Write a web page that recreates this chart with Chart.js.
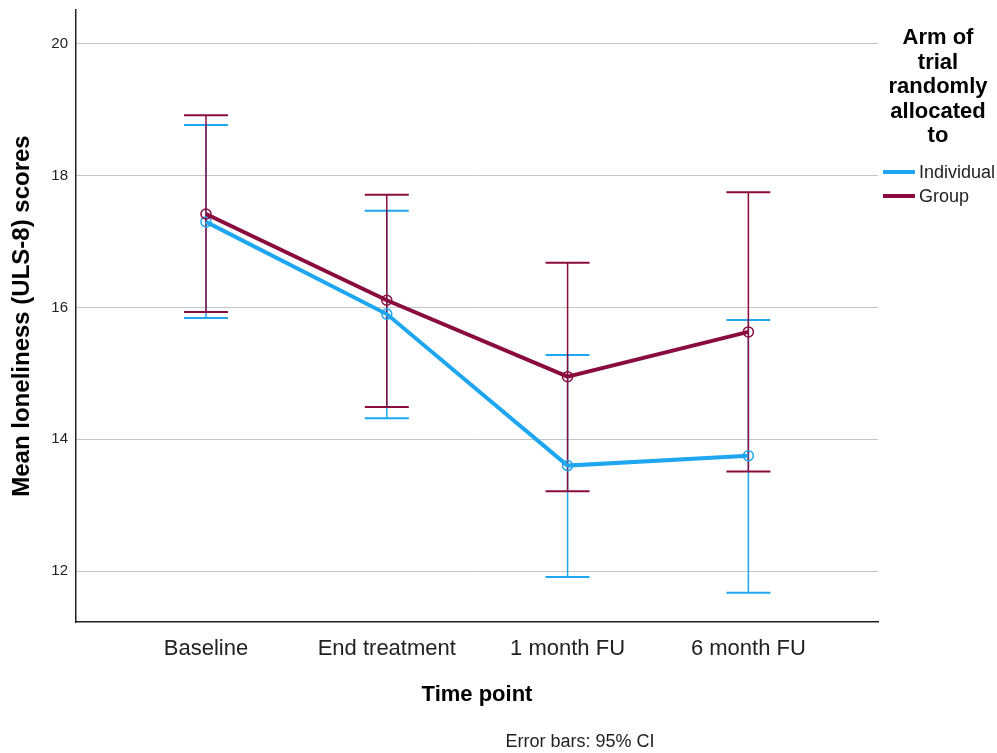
<!DOCTYPE html>
<html>
<head>
<meta charset="utf-8">
<script src="https://cdn.jsdelivr.net/npm/chart.js@4"></script>
<style>
  html, body { margin: 0; padding: 0; background: #fff; }
  #wrap { width: 997px; height: 753px; }
</style>
</head>
<body>
<div id="wrap"><canvas id="chart" width="997" height="753"></canvas></div>
<script>
const categories = ['Baseline', 'End treatment', '1 month FU', '6 month FU'];
const yTicks = [12, 14, 16, 18, 20];

const individualMean = [17.30, 15.90, 13.60, 13.75];
const individualLow  = [15.84, 14.32, 11.91, 11.67];
const individualHigh = [18.77, 17.47, 15.28, 15.81];

const groupMean = [17.42, 16.11, 14.95, 15.63];
const groupLow  = [15.93, 14.49, 13.21, 13.51];
const groupHigh = [18.92, 17.71, 16.68, 17.75];

const legendTitle = ['Arm of', 'trial', 'randomly', 'allocated', 'to'];
const footnote = 'Error bars: 95% CI';

const blue = '#1ea7f0';
const maroon = '#8a0c3f';
const FONT = '"Liberation Sans", Arial, sans-serif';

const toPoints = arr => arr.map((v, i) => ({ x: i, y: v }));

// error bars drawn under the lines, blue first then maroon
const errorBars = {
    id: 'errorBars',
    beforeDatasetsDraw(chart) {
        const ctx = chart.ctx;
        const xs = chart.scales.x, ys = chart.scales.y;
        const sets = [
            { low: individualLow, high: individualHigh, color: blue },
            { low: groupLow, high: groupHigh, color: maroon }
        ];
        ctx.save();
        for (const s of sets) {
            ctx.strokeStyle = s.color;
            s.low.forEach((lo, i) => {
                const x = xs.getPixelForValue(i);
                const y1 = ys.getPixelForValue(lo);
                const y2 = ys.getPixelForValue(s.high[i]);
                ctx.lineWidth = 1.5;
                ctx.beginPath();
                ctx.moveTo(x, y1);
                ctx.lineTo(x, y2);
                ctx.stroke();
                ctx.lineWidth = 2;
                ctx.beginPath();
                ctx.moveTo(x - 22, y1); ctx.lineTo(x + 22, y1);
                ctx.moveTo(x - 22, y2); ctx.lineTo(x + 22, y2);
                ctx.stroke();
            });
        }
        ctx.restore();
    }
};

// legend on the right and the footnote
const sideText = {
    id: 'sideText',
    afterDraw(chart) {
        const ctx = chart.ctx;
        ctx.save();
        ctx.fillStyle = '#000';
        ctx.textAlign = 'center';
        ctx.textBaseline = 'middle';
        ctx.font = 'bold 22px ' + FONT;
        legendTitle.forEach((t, i) => ctx.fillText(t, 938, 38 + i * 24.6));

        const items = [['Individual', blue, 172], ['Group', maroon, 196]];
        ctx.textAlign = 'left';
        ctx.font = '18px ' + FONT;
        for (const [label, color, y] of items) {
            ctx.strokeStyle = color;
            ctx.lineWidth = 4;
            ctx.beginPath();
            ctx.moveTo(883, y);
            ctx.lineTo(915, y);
            ctx.stroke();
            ctx.fillStyle = '#222';
            ctx.fillText(label, 919, y + 1);
        }

        ctx.textAlign = 'center';
        ctx.font = '18px ' + FONT;
        ctx.fillStyle = '#222';
        ctx.fillText(footnote, 580, 742);
        ctx.restore();
    }
};

new Chart(document.getElementById('chart'), {
    type: 'line',
    data: {
        datasets: [
            {
                label: 'Group',
                data: toPoints(groupMean),
                borderColor: maroon,
                borderWidth: 4,
                pointRadius: 5,
                pointBorderWidth: 1.5,
                pointBackgroundColor: 'rgba(255,255,255,0)',
                pointBorderColor: maroon,
                order: 0
            },
            {
                label: 'Individual',
                data: toPoints(individualMean),
                borderColor: blue,
                borderWidth: 4,
                pointRadius: 5,
                pointBorderWidth: 1.5,
                pointBackgroundColor: 'rgba(255,255,255,0)',
                pointBorderColor: blue,
                order: 1
            }
        ]
    },
    options: {
        responsive: false,
        animation: false,
        layout: { padding: { top: 10, right: 119, left: 0, bottom: 0 } },
        plugins: {
            legend: { display: false },
            tooltip: { enabled: false }
        },
        scales: {
            x: {
                type: 'linear',
                min: -0.719,
                max: 3.717,
                afterBuildTicks: scale => { scale.ticks = categories.map((c, i) => ({ value: i })); },
                afterFit: scale => { scale.height = 131; scale.paddingLeft = 0; scale.paddingRight = 0; },
                ticks: {
                    callback: v => categories[v],
                    color: '#222',
                    font: { family: FONT, size: 22 },
                    padding: 14,
                    maxRotation: 0,
                    autoSkip: false
                },
                grid: { display: false, drawTicks: false },
                border: { color: '#222', width: 1.5 },
                title: {
                    display: true,
                    text: 'Time point',
                    color: '#000',
                    font: { family: FONT, size: 22, weight: 'bold' },
                    padding: { top: 0, bottom: 45 }
                }
            },
            y: {
                min: 11.226,
                max: 20.516,
                afterBuildTicks: scale => { scale.ticks = yTicks.map(v => ({ value: v })); },
                afterFit: scale => { scale.width = 76; scale.paddingTop = 0; scale.paddingBottom = 0; },
                ticks: {
                    color: '#222',
                    font: { family: FONT, size: 15 },
                    padding: 8
                },
                grid: { color: '#c4c4c4', lineWidth: 1, drawTicks: false },
                border: { color: '#222', width: 1.5 },
                title: {
                    display: true,
                    text: 'Mean loneliness (ULS-8) scores',
                    color: '#000',
                    font: { family: FONT, size: 24, weight: 'bold' },
                    padding: { top: 8, bottom: 0 }
                }
            }
        }
    },
    plugins: [errorBars, sideText]
});
</script>
</body>
</html>
